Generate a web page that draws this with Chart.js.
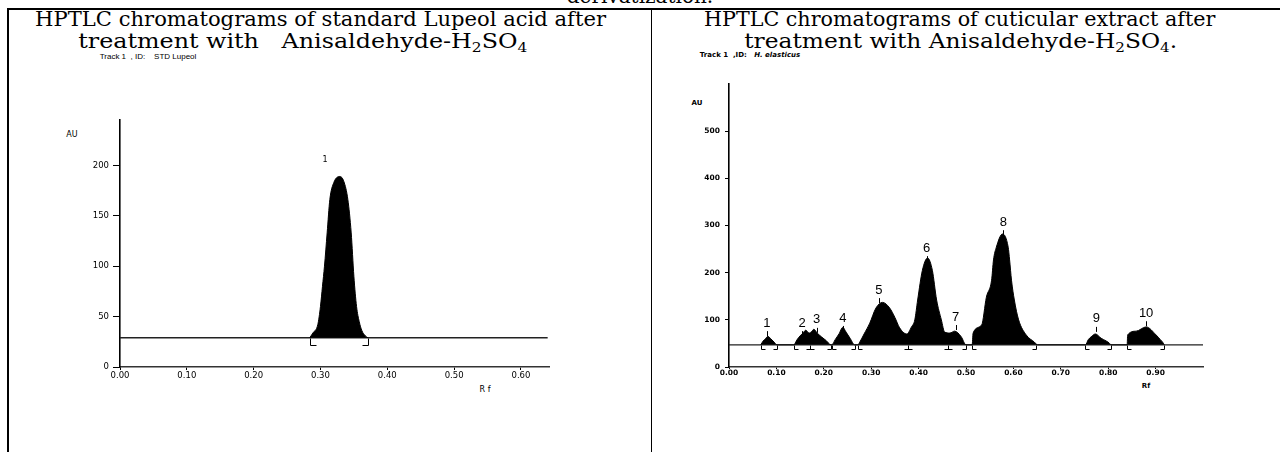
<!DOCTYPE html>
<html>
<head>
<meta charset="utf-8">
<script src="https://cdn.jsdelivr.net/npm/chart.js@4/dist/chart.umd.min.js"></script>
<style>
  html, body { margin: 0; padding: 0; background: #fff; }
  body { width: 1280px; height: 452px; position: relative; overflow: hidden; font-family: "DejaVu Sans", sans-serif; color: #000; }
  .t { position: absolute; text-align: center; font-family: "DejaVu Serif", serif; font-size: 20px; line-height: 22px; white-space: nowrap; }
  .t span.fit { display: inline-block; transform-origin: 50% 50%; }
  .sub { font-size: 13px; position: relative; top: 4px; }
  .lbl { position: absolute; transform: translate(-50%, -50%); white-space: pre; }
  .rule { position: absolute; background: #000; }
  canvas { position: absolute; top: 0; }
</style>
</head>
<body>
<div class="t" style="left:0;width:1280px;top:-15px"><span>derivatization.</span></div>

<div class="rule" style="left:7px;top:8px;width:1273px;height:2px"></div>
<div class="rule" style="left:7px;top:8px;width:2px;height:444px"></div>
<div class="rule" style="left:651px;top:9px;width:1px;height:443px"></div>

<div class="t" style="left:0;width:642px;top:8px"><span class="fit" data-w="571">HPTLC chromatograms of standard Lupeol acid after</span></div>
<div class="t" style="left:0;width:606px;top:30px"><span class="fit" data-w="449">treatment with&nbsp;&nbsp; Anisaldehyde-H<span class="sub">2</span>SO<span class="sub">4</span></span></div>
<div class="t" style="left:652px;width:616px;top:8px"><span class="fit" data-w="511">HPTLC chromatograms of cuticular extract after</span></div>
<div class="t" style="left:652px;width:618px;top:30px"><span class="fit" data-w="433">treatment with Anisaldehyde-H<span class="sub">2</span>SO<span class="sub">4</span>.</span></div>

<div class="lbl" style="left:148px;top:56px;font:8px 'Liberation Sans',sans-serif">Track 1  , ID:    STD Lupeol</div>
<div class="lbl" style="left:750px;top:55px;font:bold 7px 'DejaVu Sans',sans-serif">Track 1  ,ID:   <i>H. elasticus</i></div>

<div class="lbl" style="left:72px;top:134px;font:8px 'DejaVu Sans',sans-serif">AU</div>
<div class="lbl" style="left:485px;top:389px;font:8px 'DejaVu Sans',sans-serif">R f</div>
<div class="lbl" style="left:697px;top:103px;font:bold 7px 'DejaVu Sans',sans-serif">AU</div>
<div class="lbl" style="left:1146px;top:386px;font:bold 7px 'DejaVu Sans',sans-serif">Rf</div>

<canvas id="leftChart" width="651" height="452" style="left:0"></canvas>
<canvas id="rightChart" width="628" height="452" style="left:652px"></canvas>

<script>
// 標準ルペオール
const lupeolRf = [0.284, 0.289, 0.296, 0.300, 0.303, 0.306, 0.310, 0.314, 0.320, 0.329, 0.335, 0.341, 0.346, 0.350, 0.354, 0.358, 0.362, 0.367, 0.371];
const lupeolAU = [29, 34, 42, 60, 80, 100, 133, 166, 183, 189, 184, 166, 133, 90, 60, 45, 36, 31, 29];
const lupeolBaseAU = 29;
const lupeolBaseEnd = 0.64;
const lupeolXTicks = [0, 0.1, 0.2, 0.3, 0.4, 0.5, 0.6];
const lupeolYTicks = [0, 50, 100, 150, 200];
const lupeolBrackets = [0.284, 0.371];
const lupeolBracketKinds = ['[', ']'];
const lupeolPeakNames = ['1'];
const lupeolPeakRf = [0.307];
const lupeolPeakAU = [205];

// 表皮抽出物
const cuticRf = [
  0.067, 0.072, 0.077, 0.082, 0.088, 0.095, 0.101,
  0.137, 0.143, 0.150, 0.156, 0.162, 0.169, 0.175, 0.179, 0.186, 0.195, 0.205, 0.215,
  0.217, 0.224, 0.232, 0.240, 0.247, 0.256, 0.265,
  0.272, 0.276, 0.285, 0.297, 0.310, 0.324, 0.339, 0.350, 0.360, 0.375, 0.385, 0.392, 0.398, 0.408, 0.419, 0.429, 0.438, 0.448, 0.455, 0.466, 0.476, 0.490, 0.500,
  0.513, 0.515, 0.533, 0.543, 0.554, 0.558, 0.564, 0.577, 0.589, 0.592, 0.596, 0.602, 0.611, 0.627, 0.644, 0.651,
  0.752, 0.758, 0.764, 0.773, 0.785, 0.796, 0.802, 0.806,
  0.840, 0.841, 0.859, 0.880, 0.901, 0.910, 0.916, 0.918
];
const cuticAU = [
  47, 55, 60, 65, 60, 53, 47,
  47, 57, 66, 72, 78, 72, 76, 80, 72, 64, 56, 47,
  47, 58, 70, 84, 74, 60, 47,
  47, 53, 70, 93, 125, 137, 125, 105, 83, 70, 85, 100, 142, 205, 231, 205, 142, 100, 74, 72, 76, 64, 47,
  47, 72, 89, 148, 184, 227, 254, 282, 254, 227, 184, 142, 100, 68, 53, 47,
  47, 58, 64, 70, 61, 55, 51, 47,
  47, 68, 76, 85, 68, 58, 51, 47
];
const cuticBaseAU = 47;
const cuticBaseEnd = 1.0;
const cuticXTicks = [0, 0.1, 0.2, 0.3, 0.4, 0.5, 0.6, 0.7, 0.8, 0.9];
const cuticYTicks = [0, 100, 200, 300, 400, 500];
const cuticBrackets = [0.067, 0.101, 0.137, 0.171, 0.215, 0.217, 0.265, 0.272, 0.377, 0.462, 0.500, 0.513, 0.648, 0.752, 0.806, 0.840, 0.918];
const cuticBracketKinds = ['[', ']', '[', '⊥', ']', '[', ']', '[', '⊥', '⊥', ']', '[', ']', '[', ']', '[', ']'];
const cuticPeakNames = ['1', '2', '3', '4', '5', '6', '7', '8', '9', '10'];
const cuticPeakRf = [0.080, 0.154, 0.185, 0.240, 0.316, 0.417, 0.478, 0.579, 0.775, 0.880];
const cuticPeakAU = [93, 93, 100, 104, 163, 252, 106, 307, 102, 114];

const zip = (xs, ys) => xs.map((x, i) => ({ x, y: ys[i] }));

// ブラケットとピーク番号の描画
function makeMarkers(cfg) {
  return {
    id: 'markers',
    afterDatasetsDraw(chart) {
      const { ctx, scales: { x, y } } = chart;
      const by = Math.round(y.getPixelForValue(cfg.baseAU)) + 0.5;
      ctx.save();
      ctx.strokeStyle = '#000';
      ctx.lineWidth = 1;
      cfg.brackets.forEach((rf, i) => {
        const px = Math.round(x.getPixelForValue(rf)) + 0.5;
        const bot = by + cfg.depth;
        ctx.beginPath();
        ctx.moveTo(px, by);
        ctx.lineTo(px, bot);
        const k = cfg.kinds[i];
        if (k === '[') { ctx.moveTo(px, bot); ctx.lineTo(px + cfg.arm, bot); }
        else if (k === ']') { ctx.moveTo(px - cfg.arm, bot); ctx.lineTo(px, bot); }
        else { ctx.moveTo(px - cfg.arm, bot); ctx.lineTo(px + cfg.arm, bot); }
        ctx.stroke();
      });
      ctx.fillStyle = '#000';
      ctx.font = cfg.font;
      ctx.textAlign = 'center';
      ctx.textBaseline = 'middle';
      cfg.names.forEach((t, i) => {
        const lx = x.getPixelForValue(cfg.rf[i]);
        const ly = y.getPixelForValue(cfg.au[i]);
        ctx.fillText(t, lx, ly);
        if (cfg.tick) {
          ctx.beginPath();
          ctx.moveTo(Math.round(lx) + 0.5, ly + cfg.tick[0]);
          ctx.lineTo(Math.round(lx) + 0.5, ly + cfg.tick[1]);
          ctx.stroke();
        }
      });
      ctx.restore();
    }
  };
}

function buildChart(id, p) {
  return new Chart(document.getElementById(id), {
    type: 'line',
    data: {
      datasets: [
        {
          data: zip(p.rf, p.au),
          fill: { value: p.baseAU },
          backgroundColor: '#000',
          borderColor: '#000',
          borderWidth: 1,
          pointRadius: 0,
          cubicInterpolationMode: 'monotone'
        },
        {
          data: [{ x: 0, y: p.baseAU }, { x: p.baseEnd, y: p.baseAU }],
          fill: false,
          borderColor: '#222',
          borderWidth: 1.3,
          pointRadius: 0
        }
      ]
    },
    options: {
      responsive: false,
      animation: false,
      events: [],
      layout: { padding: p.padding },
      plugins: { legend: { display: false }, tooltip: { enabled: false } },
      scales: {
        x: {
          type: 'linear',
          min: 0,
          max: p.xMax,
          afterFit: s => { s.height = 30; },
          afterBuildTicks: s => { s.ticks = p.xTicks.map(v => ({ value: v })); },
          grid: { drawOnChartArea: false, tickLength: p.xTickLen, color: '#000' },
          border: { color: '#333', width: 1.6 },
          ticks: {
            color: '#000',
            font: p.tickFont,
            padding: p.xPad,
            maxRotation: 0,
            autoSkip: false,
            callback: v => Number(v).toFixed(2)
          }
        },
        y: {
          min: 0,
          max: p.yMax,
          afterFit: s => { s.width = p.yWidth; },
          afterBuildTicks: s => { s.ticks = p.yTicks.map(v => ({ value: v })); },
          grid: { drawOnChartArea: false, tickLength: p.yTickLen, color: '#000' },
          border: { color: '#000', width: 1.6 },
          ticks: { color: '#000', font: p.tickFont, padding: p.yPad }
        }
      }
    },
    plugins: [makeMarkers(p.markers)]
  });
}

function fitTitles() {
  document.querySelectorAll('.fit').forEach(el => {
    const w = el.getBoundingClientRect().width;
    const target = Number(el.dataset.w);
    if (w > 0) el.style.transform = `scaleX(${(target / w).toFixed(3)})`;
  });
}

fitTitles();

buildChart('leftChart', {
  rf: lupeolRf, au: lupeolAU, baseAU: lupeolBaseAU, baseEnd: lupeolBaseEnd,
  xTicks: lupeolXTicks, yTicks: lupeolYTicks,
  xMax: 0.642, yMax: 245,
  padding: { left: 60, top: 120, right: 102, bottom: 55 },
  yWidth: 60, xTickLen: 3, xPad: 1, yTickLen: 7, yPad: 4,
  tickFont: { family: 'DejaVu Sans', size: 8.5 },
  markers: {
    baseAU: lupeolBaseAU, brackets: lupeolBrackets, kinds: lupeolBracketKinds,
    depth: 7, arm: 6,
    names: lupeolPeakNames, rf: lupeolPeakRf, au: lupeolPeakAU,
    font: '8px "DejaVu Sans"', tick: null
  }
});

buildChart('rightChart', {
  rf: cuticRf, au: cuticAU, baseAU: cuticBaseAU, baseEnd: cuticBaseEnd,
  xTicks: cuticXTicks, yTicks: cuticYTicks,
  xMax: 1.0, yMax: 600,
  padding: { left: 27, top: 84, right: 77, bottom: 55 },
  yWidth: 50, xTickLen: 2, xPad: 0, yTickLen: 4, yPad: 5,
  tickFont: { family: 'DejaVu Sans', size: 7.5, weight: 'bold' },
  markers: {
    baseAU: cuticBaseAU, brackets: cuticBrackets, kinds: cuticBracketKinds,
    depth: 4, arm: 4,
    names: cuticPeakNames, rf: cuticPeakRf, au: cuticPeakAU,
    font: '13px "Liberation Sans"', tick: [8, 13]
  }
});
</script>
</body>
</html>
